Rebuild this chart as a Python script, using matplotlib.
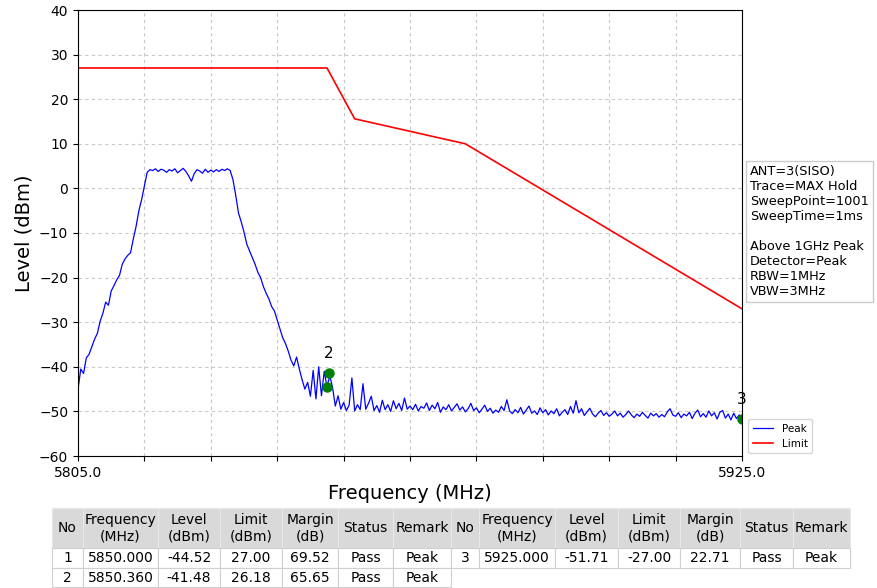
import numpy as np
import matplotlib
matplotlib.use("Agg")
import matplotlib.pyplot as plt

# sweep: 5805 .. 5925 MHz, every 0.5 MHz
F_START = 5805.0
F_STEP = 0.5
peak_level = [
    -45.1, -40.5, -41.5, -38.0, -37.2, -35.5, -33.8, -32.5, -29.8, -28.0,
    -25.5, -26.2, -23.0, -21.8, -20.5, -19.5, -17.0, -15.8, -15.0, -14.4,
    -11.3, -8.5, -5.0, -2.5, 0.5, 3.6, 4.2, 4.0, 4.4, 3.8,
    4.3, 4.1, 3.6, 4.2, 3.9, 4.4, 3.5, 4.0, 4.5, 3.8,
    2.8, 1.6, 3.3, 4.2, 3.9, 3.4, 4.3, 3.6, 4.1, 3.7,
    4.2, 3.8, 4.3, 4.0, 4.4, 4.0, 2.0, -1.5, -5.5, -7.5,
    -9.8, -12.5, -14.0, -15.5, -17.0, -18.8, -20.0, -22.0, -23.5, -24.8,
    -26.5, -27.5, -29.5, -31.5, -33.5, -34.8, -36.5, -38.5, -39.8, -37.8,
    -40.5, -42.9, -45.0, -43.5, -46.6, -40.8, -47.2, -40.0, -46.5, -41.0,
    -44.5, -42.0, -44.6, -48.8, -46.5, -49.5, -48.0, -49.8, -48.6, -42.5,
    -49.9, -48.5, -49.6, -43.8, -49.5, -48.2, -46.6, -49.8, -48.7, -50.2,
    -47.5, -49.6, -48.5, -50.0, -47.6, -49.4, -48.2, -49.8, -47.0, -49.5,
    -48.8, -49.6, -48.4, -49.9, -48.9, -49.3, -48.1, -49.8, -48.6, -49.4,
    -48.0, -50.2, -49.0, -49.6, -48.5, -49.9, -49.1, -48.3, -49.7, -49.0,
    -50.1, -49.4, -48.2, -49.8, -49.2, -50.3, -49.5, -48.6, -50.0, -49.3,
    -50.4, -49.7, -50.2, -48.9, -49.8, -47.4, -49.9, -50.5, -49.6, -50.3,
    -49.1, -50.6, -49.7, -48.8, -50.4, -49.9, -50.7, -49.2, -50.3, -49.6,
    -50.8, -49.9, -50.5, -49.4, -51.0, -50.2, -49.6, -50.7, -48.9, -50.4,
    -47.6, -50.3, -49.4, -50.9, -50.1, -49.3, -50.6, -51.2, -50.4, -49.8,
    -50.9, -50.3, -51.1, -50.6, -49.9, -51.0, -50.4, -51.3, -50.7, -49.9,
    -50.8, -51.4, -50.6, -51.1, -50.2, -50.9, -51.5, -50.4, -51.0, -50.5,
    -51.3, -50.7, -51.2, -50.1, -49.4, -50.8, -51.1, -50.3, -51.4, -50.6,
    -51.0, -50.2, -51.6, -50.4, -49.7, -51.2, -50.5, -51.3, -49.9, -51.0,
    -50.3, -51.7, -50.2, -49.8, -51.5, -50.6, -51.9, -50.4, -51.6, -50.8,
    -51.7,
]
assert len(peak_level) == 241, len(peak_level)

limit_freq = [5805, 5850, 5855, 5875, 5925]
limit_level = [27.0, 27.0, 15.6, 10.0, -27.0]

marker_no = [1, 2, 3]
marker_freq = [5850.000, 5850.360, 5925.000]
marker_level = [-44.52, -41.48, -51.71]
marker_limit = [27.00, 26.18, -27.00]
marker_margin = [69.52, 65.65, 22.71]
marker_status = ["Pass", "Pass", "Pass"]
marker_remark = ["Peak", "Peak", "Peak"]
marker_shown = [False, True, True]  # label "1" is hidden under "2"

info_lines = [
    "ANT=3(SISO)", "Trace=MAX Hold", "SweepPoint=1001", "SweepTime=1ms", "",
    "Above 1GHz Peak", "Detector=Peak", "RBW=1MHz", "VBW=3MHz",
]

table_cols = ["No", "Frequency\n(MHz)", "Level\n(dBm)", "Limit\n(dBm)",
              "Margin\n(dB)", "Status", "Remark"]

W, H = 877, 588
fig = plt.figure(figsize=(W / 100, H / 100), dpi=100)
ax = fig.add_axes([78 / W, 1 - 456 / H, 664 / W, 446 / H])

freq = F_START + F_STEP * np.arange(len(peak_level))
ax.plot(freq, peak_level, color="blue", linewidth=0.9, label="Peak")
ax.plot(limit_freq, limit_level, color="red", linewidth=1.2, label="Limit")
ax.plot(marker_freq, marker_level, "o", color="green", markersize=6.5,
        linestyle="none", clip_on=True)
for no, fx, lv, shown in zip(marker_no, marker_freq, marker_level, marker_shown):
    if shown:
        ax.annotate(str(no), (fx, lv), xytext=(0, 14), textcoords="offset points",
                    ha="center", va="center", fontsize=11, annotation_clip=False)

ax.set_xlim(5805, 5925)
ax.set_ylim(-60, 40)
xt = np.arange(5805, 5926, 12)
ax.set_xticks(xt)
ax.set_xticklabels([f"{v:.1f}" if v in (5805, 5925) else "" for v in xt], fontsize=10)
ax.set_yticks(np.arange(-60, 41, 10))
ax.tick_params(axis="y", labelsize=10)
ax.grid(True, color="#c8c8c8", linestyle=(0, (3, 3)), linewidth=0.8)
ax.set_xlabel("Frequency (MHz)", fontsize=14, labelpad=3)
ax.set_ylabel("Level (dBm)", fontsize=14)

ax.legend(loc="lower left", bbox_to_anchor=(1.005, 0.0), fontsize=7.5,
          frameon=True, borderaxespad=0.3)

fig.text(750 / W, 1 - 165 / H, "\n".join(info_lines), fontsize=9.3, va="top", ha="left",
         bbox=dict(boxstyle="square,pad=0.3", facecolor="white", edgecolor="#cccccc"))

# marker table: markers 1,2 on the left half, 3 on the right half
def row_for(i):
    return [str(marker_no[i]), f"{marker_freq[i]:.3f}", f"{marker_level[i]:.2f}",
            f"{marker_limit[i]:.2f}", f"{marker_margin[i]:.2f}",
            marker_status[i], marker_remark[i]]

half = 2
rows = [table_cols + table_cols]
for r in range(half):
    left = row_for(r)
    j = r + half
    right = row_for(j) if j < len(marker_no) else [""] * len(table_cols)
    rows.append(left + right)

col_px = [31, 75, 62, 62, 56, 55, 58, 28, 76, 63, 62, 60, 53, 57]
tax = fig.add_axes([52 / W, 1 - 587 / H, sum(col_px) / W, 79 / H])
tax.axis("off")
tbl = tax.table(cellText=rows, cellLoc="center", colWidths=[c / sum(col_px) for c in col_px],
                bbox=[0, 0, 1, 1])
tbl.auto_set_font_size(False)
row_h = [40, 20, 19]
for (r, c), cell in tbl.get_celld().items():
    cell.set_height(row_h[r] / sum(row_h))
    cell.set_edgecolor("#d0d0d0")
    cell.set_linewidth(0.8)
    cell.get_text().set_fontsize(10)
    if r == 0:
        cell.set_facecolor("#d9d9d9")
        cell.set_edgecolor("#e8e8e8")
    elif rows[r][c] == "" and c >= len(table_cols):
        cell.set_visible(False)

fig.savefig("out.png", dpi=100)
